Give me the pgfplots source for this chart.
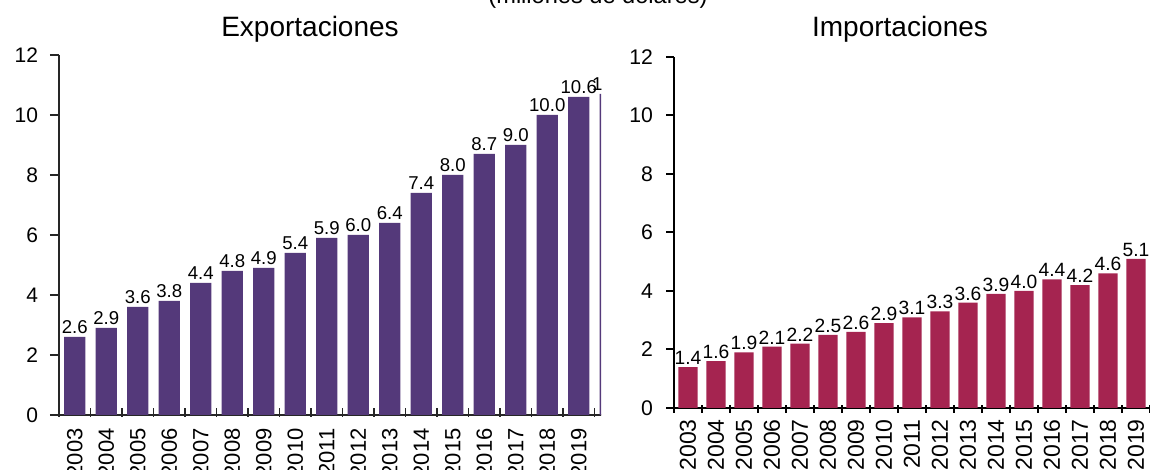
\documentclass[border=0pt]{standalone}
\usepackage{pgfplots}
\pgfplotsset{compat=1.18}
\usepackage{fontspec}
\setmainfont{Liberation Sans}

\definecolor{expbar}{HTML}{54397A}
\definecolor{impbar}{HTML}{A52450}

% exportaciones 2003-2020 (x = 0..17)
\pgfplotstableread{
x y
0 2.6
1 2.9
2 3.6
3 3.8
4 4.4
5 4.8
6 4.9
7 5.4
8 5.9
9 6.0
10 6.4
11 7.4
12 8.0
13 8.7
14 9.0
15 10.0
16 10.6
17 10.7
}\exportaciones

% importaciones 2003-2019 (x = 0..16)
\pgfplotstableread{
x y
0 1.4
1 1.6
2 1.9
3 2.1
4 2.2
5 2.5
6 2.6
7 2.9
8 3.1
9 3.3
10 3.6
11 3.9
12 4.0
13 4.4
14 4.2
15 4.6
16 5.1
}\importaciones

\begin{document}
\begin{tikzpicture}
\pgfplotsset{
  panel/.style={
    scale only axis, anchor=south west,
    ymin=0, ymax=12, ytick={0,2,...,12},
    axis x line*=bottom, axis y line*=left,
    tick align=outside, major tick length=4pt,
    xtick style={yshift=1.5pt},
    x tick label as interval,
    xticklabel style={rotate=90, anchor=east, inner sep=1pt},
    ybar, bar width=0.68,
    /pgf/number format/assume math mode=true,
    nodes near coords={\pgfmathprintnumber[fixed,fixed zerofill,precision=1]{\pgfplotspointmeta}},
    nodes near coords style={inner sep=1pt, black},
    axis line style={line width=1pt, black},
    tick style={line width=1pt, black},
  }
}

% subtitle, cut at the top edge as in the source image
\node[anchor=base, font=\fontsize{11.8}{14}\selectfont] at (299pt,233pt) {(millones de dólares)};
\node[anchor=base, font=\fontsize{14}{16}\selectfont] at (155pt,216.5pt) {Exportaciones};
\node[anchor=base, font=\fontsize{14}{16}\selectfont] at (450pt,216.5pt) {Importaciones};

\begin{scope}
\clip (0pt,0pt) rectangle (300.5pt,235pt);
\begin{axis}[panel,
    at={(29.5pt,27.5pt)}, width=283.5pt, height=180pt,
    xmin=-0.5, xmax=17.5,
    xtick={-0.5,0.5,...,17.5},
    xticklabels={2003,2004,2005,2006,2007,2008,2009,2010,2011,2012,2013,2014,2015,2016,2017,2018,2019,2020},
    major tick length=4.5pt,
    xtick style={yshift=2pt},
    axis line style={line width=0.8pt, black!85},
    tick style={line width=0.8pt, black!85},
    yticklabel style={font=\fontsize{10.5}{12}\selectfont, xshift=-2.5pt},
    xticklabel style={font=\fontsize{11}{13}\selectfont, inner sep=2pt},
    nodes near coords style={font=\fontsize{9.3}{11}\selectfont, inner sep=1.5pt},
  ]
  \addplot[fill=expbar, draw=none] table[x=x,y=y] {\exportaciones};
\end{axis}
\end{scope}

\begin{axis}[panel,
    at={(337pt,31pt)}, width=238pt, height=175.5pt,
    xmin=-0.5, xmax=16.5,
    xtick={-0.5,0.5,...,16.5},
    xticklabels={2003,2004,2005,2006,2007,2008,2009,2010,2011,2012,2013,2014,2015,2016,2017,2018,2019},
    yticklabel style={font=\fontsize{10.6}{12}\selectfont, xshift=-3pt},
    xticklabel style={font=\fontsize{11.5}{13}\selectfont, inner sep=1.5pt},
    nodes near coords style={font=\fontsize{9.6}{11}\selectfont},
  ]
  \addplot[fill=impbar, draw=none] table[x=x,y=y] {\importaciones};
\end{axis}

\pgfresetboundingbox
\useasboundingbox (0pt,0pt) rectangle (575pt,235pt);
\end{tikzpicture}
\end{document}
